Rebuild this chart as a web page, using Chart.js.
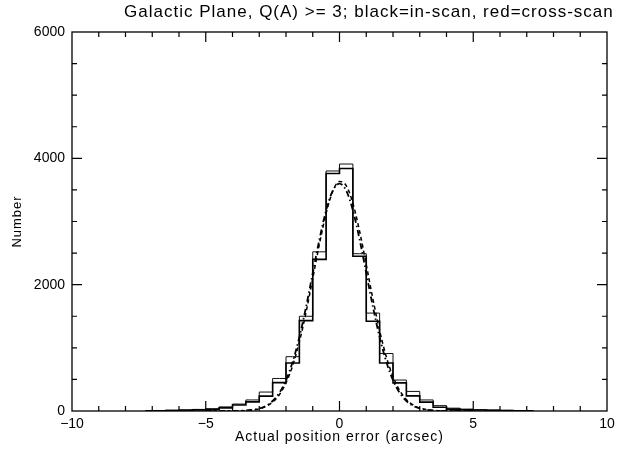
<!DOCTYPE html>
<html>
<head>
<meta charset="utf-8">
<script src="https://cdn.jsdelivr.net/npm/chart.js@4"></script>
<style>
  body { margin: 0; background: #fff; }
  canvas { display: block; }
</style>
</head>
<body>
<canvas id="chart" width="624" height="458"></canvas>
<script>
// histogram bins, 0.5 arcsec wide (centres)
let binCenters = [-7.25,-6.75,-6.25,-5.75,-5.25,-4.75,-4.25,-3.75,-3.25,-2.75,-2.25,-1.75,-1.25,-0.75,-0.25,
                  0.25,0.75,1.25,1.75,2.25,2.75,3.25,3.75,4.25,4.75,5.25,5.75,6.25,6.75,7.25];
let inScan    = [3,5,8,12,18,25,50,95,145,235,450,760,1430,2400,3760,
                 3840,2450,1420,760,445,240,140,60,30,20,15,10,6,4,2];
let crossScan = [4,8,12,18,25,35,65,110,175,300,515,860,1500,2520,3800,
                 3910,2490,1550,910,490,310,175,85,45,30,20,14,10,6,4];

let fitX     = [-5,-4,-3.5,-3,-2.75,-2.5,-2.25,-2,-1.75,-1.5,-1.25,-1,-0.75,-0.5,-0.25,0,
                0.25,0.5,0.75,1,1.25,1.5,1.75,2,2.25,2.5,2.75,3,3.5,4,5];
let fitIn    = [0,1,7,35,72,141,258,445,720,1095,1564,2098,2643,3130,3480,3635,
                3568,3290,2849,2318,1771,1273,858,544,324,181,95,47,9,1,0];
let fitCross = [0,1,8,40,82,158,286,487,779,1169,1648,2183,2718,3177,3489,3600,
                3489,3177,2718,2183,1648,1169,779,487,286,158,82,40,8,1,0];

let xTicks = [-10,-5,0,5,10];
let yTicks = [0,2000,4000,6000];

let titleText = "Galactic Plane, Q(A) >= 3; black=in-scan, red=cross-scan";
let font = "'Liberation Sans', Arial, Helvetica, sans-serif";

function pts(xs, ys) {
  return xs.map((x, i) => ({ x: x, y: ys[i] }));
}

function minus(v) {
  return v < 0 ? "\u2212" + Math.abs(v) : "" + v;
}

let framePlugin = {
  id: "frame",
  beforeDraw(chart) {
    let ctx = chart.ctx;
    ctx.save();
    ctx.fillStyle = "#fff";
    ctx.fillRect(0, 0, chart.width, chart.height);
    ctx.restore();
  },
  afterDraw(chart) {
    let ctx = chart.ctx;
    let a = chart.chartArea;
    let xs = chart.scales.x, ys = chart.scales.y;
    ctx.save();
    ctx.strokeStyle = "#000";
    ctx.lineWidth = 1.3;
    ctx.strokeRect(a.left, a.top, a.right - a.left, a.bottom - a.top);

    ctx.lineWidth = 1.2;
    ctx.beginPath();
    for (let v = xs.min + 1; v < xs.max; v += 1) {
      let len = v % 5 === 0 ? 10 : 5;
      let px = xs.getPixelForValue(v);
      ctx.moveTo(px, a.bottom); ctx.lineTo(px, a.bottom - len);
      ctx.moveTo(px, a.top); ctx.lineTo(px, a.top + len);
    }
    for (let v = ys.min + 500; v < ys.max; v += 500) {
      let len = v % 2000 === 0 ? 10 : 5;
      let py = ys.getPixelForValue(v);
      ctx.moveTo(a.left, py); ctx.lineTo(a.left + len, py);
      ctx.moveTo(a.right, py); ctx.lineTo(a.right - len, py);
    }
    ctx.stroke();

    ctx.fillStyle = "#000";
    ctx.textAlign = "center";
    ctx.textBaseline = "middle";
    ctx.font = "17px " + font;
    ctx.letterSpacing = "1px";
    ctx.fillText(titleText, a.left + (a.right - a.left) * 0.555, a.top - 20);

    ctx.font = "14px " + font;
    ctx.letterSpacing = "1px";
    ctx.fillText("Actual position error (arcsec)", (a.left + a.right) / 2, a.bottom + 26);

    ctx.translate(17, (a.top + a.bottom) / 2);
    ctx.rotate(-Math.PI / 2);
    ctx.font = "13px " + font;
    ctx.fillText("Number", 0, 0);
    ctx.restore();
  }
};

new Chart(document.getElementById("chart"), {
  type: "line",
  data: {
    datasets: [
      { label: "in-scan", data: pts(binCenters, inScan), stepped: "middle",
        borderColor: "#000", borderWidth: 1.6, pointRadius: 0 },
      { label: "cross-scan", data: pts(binCenters, crossScan), stepped: "middle",
        borderColor: "#111", borderWidth: 1, pointRadius: 0 },
      { label: "in-scan fit", data: pts(fitX, fitIn), borderColor: "#000",
        borderWidth: 1.5, borderDash: [4, 3], pointRadius: 0, cubicInterpolationMode: "monotone" },
      { label: "cross-scan fit", data: pts(fitX, fitCross), borderColor: "#000",
        borderWidth: 1.8, borderDash: [6, 3, 1.5, 3], pointRadius: 0, cubicInterpolationMode: "monotone" }
    ]
  },
  options: {
    responsive: false,
    animation: false,
    layout: { padding: { left: 0, right: 17, top: 32, bottom: 0 } },
    plugins: { legend: { display: false }, tooltip: { enabled: false }, title: { display: false } },
    scales: {
      x: {
        type: "linear", min: -10, max: 10,
        grid: { display: false, drawTicks: false },
        border: { display: false },
        afterFit: s => { s.height = 47; },
        afterBuildTicks: s => { s.ticks = xTicks.map(v => ({ value: v })); },
        ticks: { color: "#000", padding: 5, font: { family: font, size: 14 },
                 maxRotation: 0, callback: v => minus(v) }
      },
      y: {
        type: "linear", min: 0, max: 6000,
        grid: { display: false, drawTicks: false },
        border: { display: false },
        afterFit: s => { s.width = 72; },
        afterBuildTicks: s => { s.ticks = yTicks.map(v => ({ value: v })); },
        ticks: { color: "#000", padding: 7, font: { family: font, size: 14 },
                 callback: v => minus(v) }
      }
    }
  },
  plugins: [framePlugin]
});
</script>
</body>
</html>
